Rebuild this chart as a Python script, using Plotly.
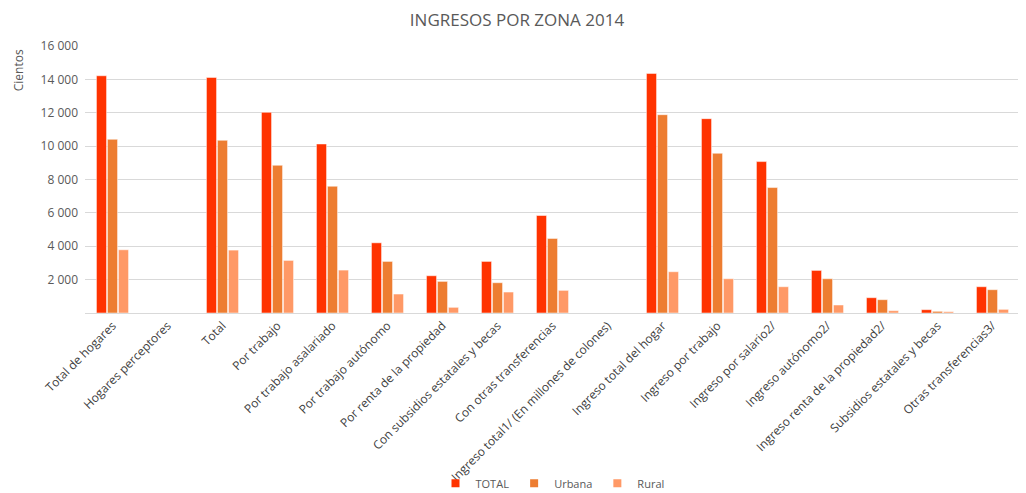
import plotly.graph_objects as go

categories = [
    "Total de hogares", "Hogares perceptores", "Total", "Por trabajo",
    "Por trabajo asalariado", "Por trabajo autónomo", "Por renta de la propiedad",
    "Con subsidios estatales y becas", "Con otras transferencias",
    "Ingreso total1/ (En millones de colones)", "Ingreso total del hogar",
    "Ingreso por trabajo", "Ingreso por salario2/", "Ingreso autónomo2/",
    "Ingreso renta de la propiedad2/", "Subsidios estatales y becas",
    "Otras transferencias3/",
]
total = [14217, None, 14118, 12024, 10130, 4207, 2233, 3091, 5842, None,
         14357, 11645, 9073, 2552, 917, 199, 1575]
urbana = [10409, None, 10349, 8853, 7597, 3091, 1894, 1815, 4467, None,
          11884, 9571, 7517, 2054, 798, 100, 1396]
rural = [3789, None, 3769, 3151, 2572, 1137, 339, 1256, 1356, None,
         2473, 2054, 1575, 479, 140, 80, 219]
y_ticks = [2000, 4000, 6000, 8000, 10000, 12000, 14000, 16000]

series = [("TOTAL", total, "#FF3300"),
          ("Urbana", urbana, "#ED7D31"),
          ("Rural", rural, "#FF9966")]

fig = go.Figure()
for name, vals, col in series:
    fig.add_trace(go.Bar(x=categories, y=vals, name=name, showlegend=False,
                         marker=dict(color=col, line=dict(color="white", width=0.5))))
for name, vals, col in series:
    fig.add_trace(go.Scatter(x=[None], y=[None], mode="markers", name=name,
                             marker=dict(symbol="square", size=8, color=col)))

fig.update_layout(
    width=1018, height=485,
    paper_bgcolor="white", plot_bgcolor="white",
    font=dict(family="Open Sans, Liberation Sans, sans-serif", color="#595959", size=12),
    title=dict(text="INGRESOS POR ZONA 2014", x=0.5, xanchor="center", y=0.975, yanchor="middle",
               font=dict(size=17, color="#595959")),
    barmode="group", bargap=0.4, bargroupgap=0.08,
    margin=dict(l=77, r=6, t=38, b=180, autoexpand=False),
    separators=", ",
    legend=dict(orientation="h", x=0.5, xanchor="center", y=-0.638, yanchor="middle",
                font=dict(size=11, color="#595959"), itemwidth=30,
                bgcolor="rgba(0,0,0,0)"),
    showlegend=True,
)
fig.update_yaxes(range=[0, 16000], tickvals=y_ticks, tickformat=",d",
                 showgrid=True, gridcolor="#D9D9D9", gridwidth=1,
                 zeroline=False, showline=False, ticks="", ticklabelstandoff=6,
                 tickfont=dict(size=12, color="#595959"))
fig.update_xaxes(tickangle=-45, showline=True, linecolor="#D9D9D9", ticks="",
                 tickfont=dict(size=12, color="#404040"))
fig.add_annotation(text="Cientos", xref="paper", yref="paper", x=-0.0717, y=0.995,
                   xanchor="center", yanchor="top", textangle=-90, showarrow=False,
                   font=dict(size=12, color="#595959"))

fig.write_html("out.html")
